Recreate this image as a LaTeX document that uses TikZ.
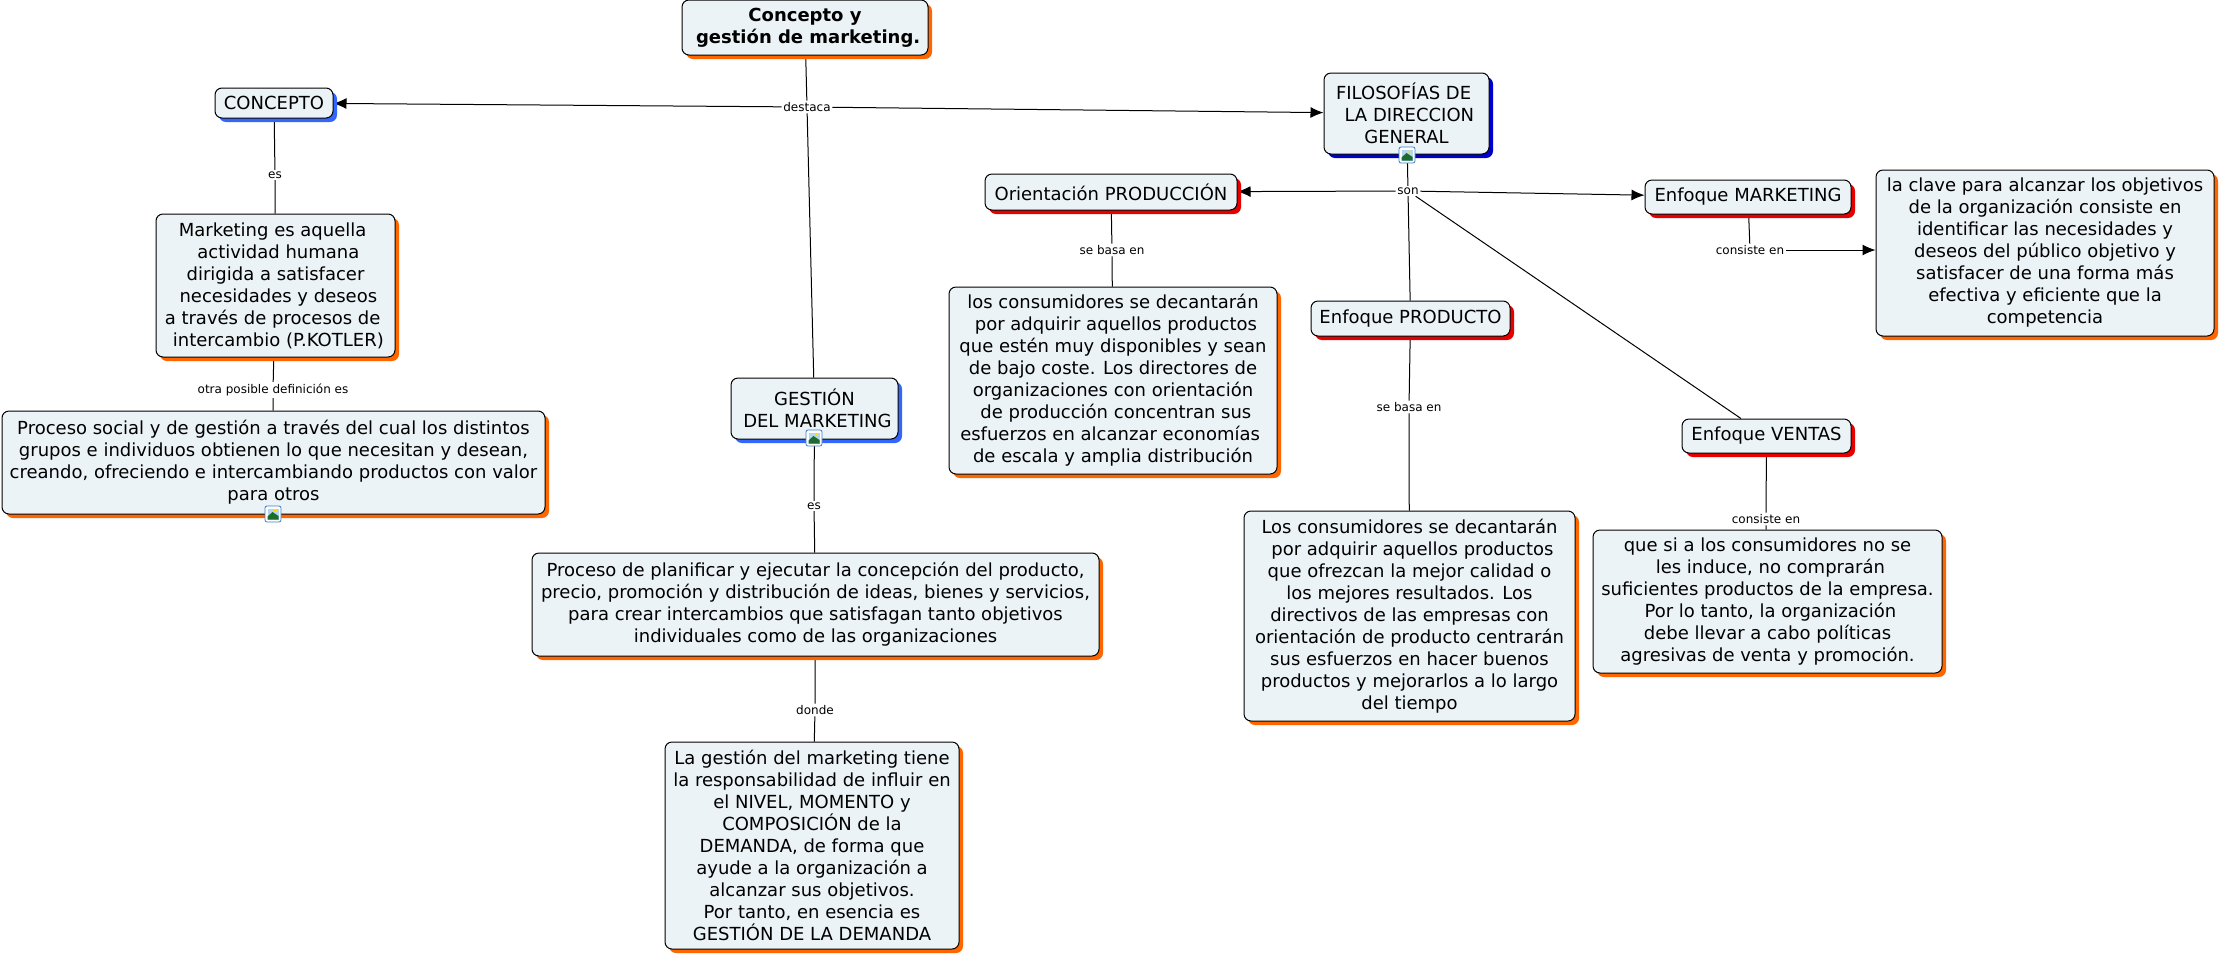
\documentclass[tikz,border=0pt]{standalone}
\usepackage{fontspec}
\setmainfont{DejaVu Sans}
\usepackage{tikz}
\usetikzlibrary{arrows.meta,shadows,backgrounds}
\definecolor{boxfill}{HTML}{EBF3F6}
\definecolor{shorange}{HTML}{FF6600}
\definecolor{shblue}{HTML}{3366FF}
\definecolor{shnavy}{HTML}{0000CC}
\definecolor{shred}{HTML}{E60000}
\definecolor{iconblue}{HTML}{3C7FD0}
\definecolor{iconsky}{HTML}{B5D6F0}
\definecolor{icongreen}{HTML}{1E6B2E}
\newcommand{\sk}{\ \null}

\begin{document}
\begin{tikzpicture}[x=1pt,y=-1pt]
		\tikzset{concept/.style n args={3}{draw=black, line width=1pt, rounded corners=7pt,
				fill=boxfill, align=center, inner sep=0pt,
				minimum width=#1, minimum height=#2,
				font=\fontsize{18}{22}\selectfont,
				drop shadow={shadow xshift=4pt, shadow yshift=-4pt, fill=#3, opacity=1}},
			phrase/.style={fill=white, inner sep=1.5pt, font=\fontsize{12}{14}\selectfont},
			link/.style={draw=black, line width=1pt},
			linkto/.style={link, -{Latex[length=13pt,width=11pt]}},
			imgicon/.pic={
				\draw[rounded corners=2pt, draw=iconblue, fill=white, line width=0.8pt] (-8,-8) rectangle (8,8);
				\fill[iconsky] (-5.5,-5.5) rectangle (5.5,5.5);
				\fill[icongreen] (-5.5,5.5) -- (-5.5,2.5) -- (-0.5,-2) -- (5.5,2) -- (5.5,5.5) -- cycle;
				\fill[yellow!80!orange] (2.5,-3.5) circle (1.6);
			}}
		\useasboundingbox (0,0) rectangle (2220,954);

		% Draw the concepts
		\node[concept={246pt}{55pt}{shorange}, font=\fontsize{18}{22}\selectfont\bfseries] at (805,27.5) (titulo) {Concepto y\\ \sk gestión de marketing.};
		\node[concept={118pt}{30pt}{shblue}] at (274,103) (concepto) {CONCEPTO};
		\node[concept={165pt}{81pt}{shnavy}] at (1406.5,113.5) (filosofias) {FILOSOFÍAS DE\sk\\ \sk LA DIRECCION\\GENERAL};
		\node[concept={239pt}{143pt}{shorange}] at (275.5,285.5) (definicion) {Marketing es aquella\sk\\ \sk actividad humana\\dirigida a satisfacer\\ \sk necesidades y deseos\\a través de procesos de\sk\\ \sk intercambio (P.KOTLER)};
		\node[concept={543pt}{103pt}{shorange}] at (273.5,462.5) (social) {Proceso social y de gestión a través del cual los distintos\\grupos e individuos obtienen lo que necesitan y desean,\\creando, ofreciendo e intercambiando productos con valor\\para otros};
		\node[concept={167pt}{61pt}{shblue}] at (814.5,408.5) (gestion) {GESTIÓN\\ \sk DEL MARKETING};
		\node[concept={567pt}{103pt}{shorange}] at (815.5,604.5) (planificar) {Proceso de planificar y ejecutar la concepción del producto,\\precio, promoción y distribución de ideas, bienes y servicios,\\para crear intercambios que satisfagan tanto objetivos\\individuales como de las organizaciones};
		\node[concept={294pt}{207pt}{shorange}] at (812,845.5) (demanda) {La gestión del marketing tiene\\la responsabilidad de influir en\\el NIVEL, MOMENTO y\\COMPOSICIÓN de la\\DEMANDA, de forma que\\ayude a la organización a\\alcanzar sus objetivos.\\Por tanto, en esencia es\\GESTIÓN DE LA DEMANDA};
		\node[concept={252pt}{36pt}{shred}] at (1111,192) (produccion) {Orientación PRODUCCIÓN};
		\node[concept={328pt}{187pt}{shorange}] at (1113,380.5) (decantaran) {los consumidores se decantarán\\ \sk por adquirir aquellos productos\\que estén muy disponibles y sean\\de bajo coste. Los directores de\\organizaciones con orientación\\ \sk de producción concentran sus\\esfuerzos en alcanzar economías\sk\\de escala y amplia distribución};
		\node[concept={199pt}{35pt}{shred}] at (1410.5,318.5) (producto) {Enfoque PRODUCTO};
		\node[concept={331pt}{210pt}{shorange}] at (1409.5,616) (resultados) {Los consumidores se decantarán\\ \sk por adquirir aquellos productos\\que ofrezcan la mejor calidad o\\los mejores resultados. Los\\directivos de las empresas con\\orientación de producto centrarán\\sus esfuerzos en hacer buenos\\productos y mejorarlos a lo largo\\del tiempo};
		\node[concept={206pt}{34pt}{shred}] at (1748,197) (mercadeo) {Enfoque MARKETING};
		\node[concept={338pt}{166pt}{shorange}] at (2045,253) (clave) {la clave para alcanzar los objetivos\\de la organización consiste en\\identificar las necesidades y\\deseos del público objetivo y\\satisfacer de una forma más\\efectiva y eficiente que la\\competencia};
		\node[concept={169pt}{34pt}{shred}] at (1766.5,436) (ventas) {Enfoque VENTAS};
		\node[concept={349pt}{143pt}{shorange}] at (1767.5,601.5) (induce) {que si a los consumidores no se\\ \sk les induce, no comprarán\\suficientes productos de la empresa.\\ \sk Por lo tanto, la organización\\debe llevar a cabo políticas\\agresivas de venta y promoción.};

		% Draw the linking phrases
		\node[phrase] at (807,107) (destaca) {destaca};
		\node[phrase] at (275,175) (es1) {es};
		\node[phrase] at (273,390) (otra) {otra posible definición es};
		\node[phrase] at (814,506) (es2) {es};
		\node[phrase] at (815,710) (donde) {donde};
		\node[phrase] at (1408,191) (son) {son};
		\node[phrase] at (1112,250) (basa1) {se basa en};
		\node[phrase] at (1409,407) (basa2) {se basa en};
		\node[phrase] at (1750,250) (consiste1) {consiste en};
		\node[phrase] at (1766,519) (consiste2) {consiste en};

		% Connect the concepts
		\begin{scope}[on background layer]
		\draw[link] (titulo) -- (destaca);
		\draw[linkto] (destaca) -- (concepto);
		\draw[linkto] (destaca) -- (filosofias);
		\draw[link] (destaca) -- (gestion);
		\draw[link] (concepto) -- (es1);
		\draw[link] (es1) -- (definicion);
		\draw[link] (definicion) -- (otra);
		\draw[link] (otra) -- (social);
		\draw[link] (gestion) -- (es2);
		\draw[link] (es2) -- (planificar);
		\draw[link] (planificar) -- (donde);
		\draw[link] (donde) -- (demanda);
		\draw[link] (filosofias) -- (son);
		\draw[linkto] (son) -- (produccion);
		\draw[linkto] (son) -- (mercadeo);
		\draw[link] (son) -- (producto);
		\draw[link] (son) -- (ventas);
		\draw[link] (produccion) -- (basa1);
		\draw[link] (basa1) -- (decantaran);
		\draw[link] (producto) -- (basa2);
		\draw[link] (basa2) -- (resultados);
		\draw[link] (mercadeo) -- (consiste1);
		\draw[linkto] (consiste1) -- (consiste1 -| clave.west);
		\draw[link] (ventas) -- (consiste2);
		\draw[link] (consiste2) -- (induce);
		\end{scope}

		% Image marks
		\pic (iconfil) at (1407,155) {imgicon};
		\pic (icongest) at (814,438) {imgicon};
		\pic (iconsoc) at (273,514) {imgicon};
\end{tikzpicture}
\end{document}
